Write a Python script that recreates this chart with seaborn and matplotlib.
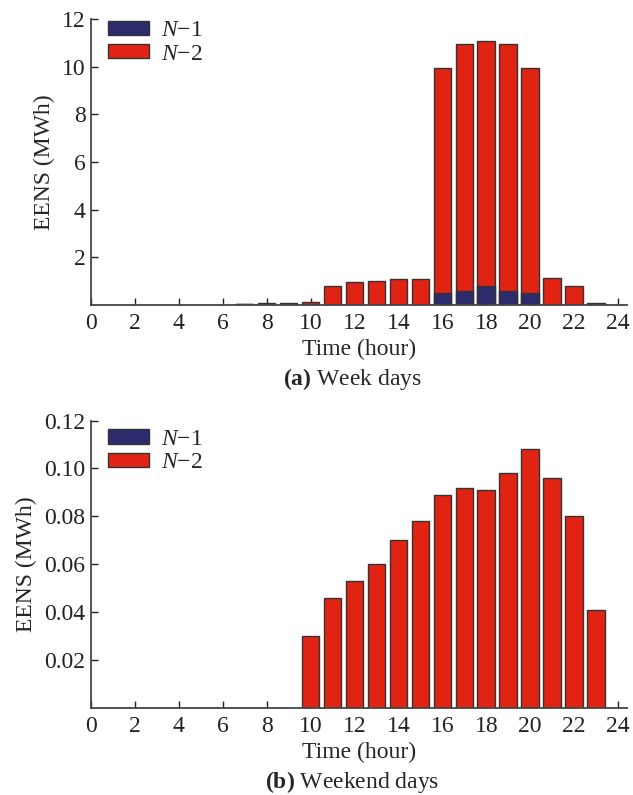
import matplotlib
matplotlib.use("Agg")
import matplotlib.pyplot as plt
from matplotlib.patches import Patch
from matplotlib import font_manager
import seaborn as sns
import pandas as pd

# ---- data ----
hours_week = [7, 8, 9, 10, 11, 12, 13, 14, 15, 16, 17, 18, 19, 20, 21, 22, 23]
week_n1 = [0.03, 0, 0, 0, 0, 0, 0, 0, 0, 0.49, 0.57, 0.80, 0.57, 0.49, 0, 0, 0]
week_n2 = [0.02, 0.10, 0.10, 0.13, 0.80, 0.95, 0.99, 1.11, 1.11, 9.44, 10.39, 10.26, 10.39, 9.44, 1.12, 0.79, 0.10]

hours_wkend = [10, 11, 12, 13, 14, 15, 16, 17, 18, 19, 20, 21, 22, 23]
wkend_n2 = [0.030, 0.046, 0.053, 0.060, 0.070, 0.078, 0.089, 0.092, 0.091, 0.098, 0.108, 0.096, 0.080, 0.041]
wkend_n1 = [0.0] * len(hours_wkend)

xticks = [0, 2, 4, 6, 8, 10, 12, 14, 16, 18, 20, 22, 24]
yticks_week = [2, 4, 6, 8, 10, 12]
yticks_wkend = [0.02, 0.04, 0.06, 0.08, 0.10, 0.12]
series_labels = [r"$N$−1", r"$N$−2"]

# ---- style ----
sns.set_style("ticks")
names = {f.name for f in font_manager.fontManager.ttflist}
serif = "Liberation Serif" if "Liberation Serif" in names else "STIXGeneral"
plt.rcParams["font.family"] = [serif, "STIXGeneral", "DejaVu Serif"]
plt.rcParams["mathtext.fontset"] = "custom"
plt.rcParams["mathtext.rm"] = serif
plt.rcParams["mathtext.it"] = serif + ":italic"
plt.rcParams["mathtext.bf"] = serif + ":bold"

C_N1 = "#2c2b6c"
C_N2 = "#e02313"
EDGE = "#333333"
FS = 17

fig = plt.figure(figsize=(6.33, 7.95), dpi=100)
ax1 = fig.add_axes([91 / 633, 1 - 305 / 795, (627 - 91) / 633, (305 - 19) / 795])
ax2 = fig.add_axes([91 / 633, 1 - 708 / 795, (627 - 91) / 633, (708 - 420.5) / 795])


def draw(ax, hours, n1, n2):
    df = pd.DataFrame({"hour": hours, "total": [a + b for a, b in zip(n1, n2)], "n1": n1})
    sns.barplot(data=df, x="hour", y="total", native_scale=True, width=0.8,
                color=C_N2, saturation=1, edgecolor=EDGE, linewidth=1, ax=ax)
    d1 = df[df["n1"] > 0]
    if len(d1):
        sns.barplot(data=d1, x="hour", y="n1", native_scale=True, width=0.8,
                    color=C_N1, saturation=1, edgecolor=EDGE, linewidth=1, ax=ax)
    for p in ax.patches:
        cx = p.get_x() + p.get_width() / 2
        p.set_width(0.8)
        p.set_x(cx - 0.4)


draw(ax1, hours_week, week_n1, week_n2)
draw(ax2, hours_wkend, wkend_n1, wkend_n2)

for ax, yt, ylim, fmt, leg_y in [(ax1, yticks_week, 12, "{:g}", 1.045),
                                 (ax2, yticks_wkend, 0.12, "{:.2f}", 1.02)]:
    ax.set_xlim(0, 24.41)
    ax.set_ylim(0, ylim)
    ax.set_xticks(xticks)
    ax.set_xticklabels([str(t) for t in xticks])
    ax.set_yticks(yt)
    ax.set_yticklabels([fmt.format(t) for t in yt])
    ax.tick_params(direction="in", length=5, width=1, labelsize=FS, colors="#222222", pad=4)
    ax.tick_params(axis="x", pad=6)
    for s in ["top", "right"]:
        ax.spines[s].set_visible(False)
    for s in ["left", "bottom"]:
        ax.spines[s].set_color("#444444")
        ax.spines[s].set_linewidth(1.3)
    ax.set_xlabel("Time (hour)", fontsize=FS, labelpad=3)
    ax.set_ylabel("EENS (MWh)", fontsize=FS, labelpad=5)
    handles = [Patch(facecolor=C_N1, edgecolor=EDGE, linewidth=1),
               Patch(facecolor=C_N2, edgecolor=EDGE, linewidth=1)]
    ax.legend(handles, series_labels, loc="upper left", bbox_to_anchor=(0.005, leg_y),
              frameon=False, fontsize=FS, handlelength=1.75, handleheight=0.55,
              labelspacing=0.1, handletextpad=0.5, borderaxespad=0.2)

cx = (91 + 627) / 2 / 633
fig.text(cx - 0.01, 1 - 379 / 795, r"$\mathbf{(a)}$ Week days", ha="center", va="center", fontsize=FS)
fig.text(cx - 0.01, 1 - 782 / 795, r"$\mathbf{(b)}$ Weekend days", ha="center", va="center", fontsize=FS)

fig.savefig("out.png", dpi=100)
